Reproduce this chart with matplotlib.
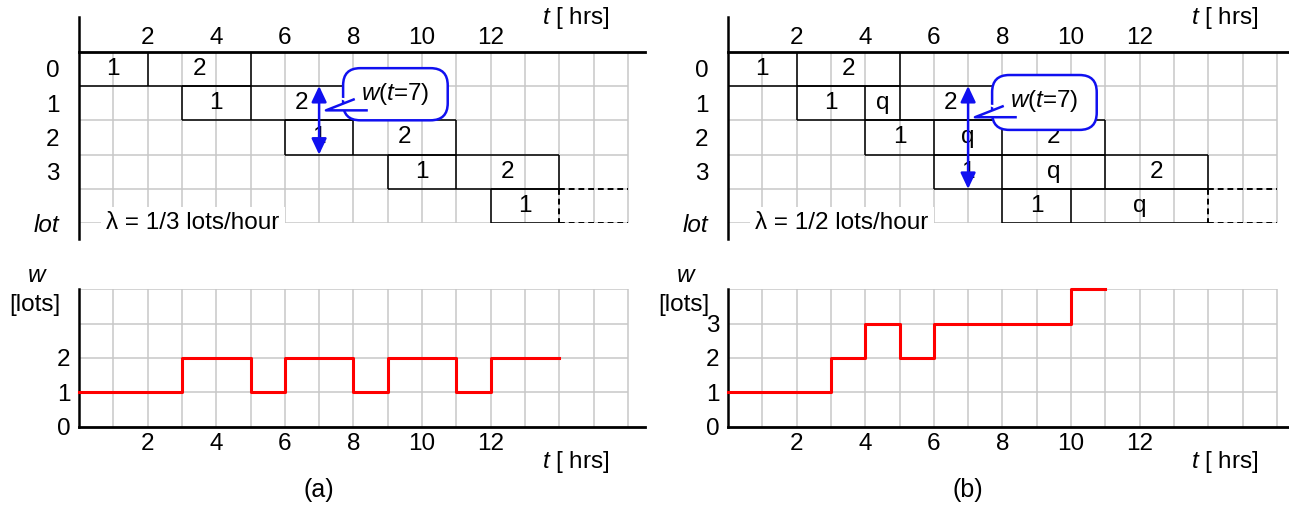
import matplotlib
matplotlib.use("Agg")
import matplotlib.pyplot as plt
from matplotlib.patches import FancyBboxPatch, Polygon

plt.rcParams['font.family'] = ['Liberation Sans', 'DejaVu Sans']
plt.rcParams['mathtext.fontset'] = 'custom'
plt.rcParams['mathtext.rm'] = 'Liberation Sans'
plt.rcParams['mathtext.it'] = 'Liberation Sans:italic'
plt.rcParams['font.size'] = 17.5

# schedules: step boundaries per lot and the label of each step
edges_a = [[0, 2, 5], [3, 5, 8], [6, 8, 11], [9, 11, 14], [12, 14]]
labels_a = [["1", "2"], ["1", "2"], ["1", "2"], ["1", "2"], ["1"]]
edges_b = [[0, 2, 5], [2, 4, 5, 8], [4, 6, 8, 11], [6, 8, 11, 14], [8, 10, 14]]
labels_b = [["1", "2"], ["1", "q", "2"], ["1", "q", "2"], ["1", "q", "2"], ["1", "q"]]
dash_end = 16

# work in process w(t)
wip_t_a = [0, 3, 5, 6, 8, 9, 11, 12, 14]
wip_w_a = [1, 2, 1, 2, 1, 2, 1, 2, 2]
wip_t_b = [0, 3, 4, 5, 6, 10, 11]
wip_w_b = [1, 2, 3, 2, 3, 4, 4]

t_probe = 7
hour_ticks = [2, 4, 6, 8, 10, 12]
lot_ticks = ["0", "1", "2", "3"]
w_ticks_a = [0, 1, 2]
w_ticks_b = [0, 1, 2, 3]

W, H = 1289, 512
U = 34.3          # pixels per hour / per lot row
GRID = '#c8c8c8'
BLUE = '#1010f0'


def px_axes(fig, left, top, width, height):
    return fig.add_axes([left / W, 1 - (top + height) / H, width / W, height / H])


def w_at(ts, ws, t):
    val = ws[0]
    for a, v in zip(ts, ws):
        if a <= t:
            val = v
    return val


def draw_schedule(ax, edges, labels, lam, box_y, wt):
    ax.set_xlim(0, 16.5)
    ax.set_ylim(5, 0)
    for s in ['right', 'bottom', 'left']:
        ax.spines[s].set_visible(False)
    ax.spines['top'].set_linewidth(2.0)
    ax.vlines(range(1, 17), 0, 5, color=GRID, lw=1.1, zorder=1)
    ax.hlines(range(1, 6), 0, 16, color=GRID, lw=1.1, zorder=1)
    ax.plot([0, 0], [-1.0, 5.45], color='k', lw=1.8, clip_on=False, zorder=6)

    n = len(edges)
    for r, (e, lab) in enumerate(zip(edges, labels)):
        last = r == n - 1
        ax.hlines([r, r + 1], e[0], e[-1], color='k', lw=1.1, zorder=3)
        ax.vlines(e[:-1] if last else e, r, r + 1, color='k', lw=1.1, zorder=3)
        for a, b, s in zip(e[:-1], e[1:], lab):
            ax.text((a + b) / 2, r + 0.5, s, ha='center', va='center', zorder=3)
    # open-ended lot still running
    end = edges[-1][-1]
    ax.hlines([n - 1, n], end, dash_end, color='k', lw=1.4, ls=(0, (3, 2)), zorder=3)
    ax.vlines(end, n - 1, n, color='k', lw=1.4, ls=(0, (3, 2)), zorder=3)

    ax.xaxis.tick_top()
    ax.set_xticks(hour_ticks)
    ax.set_xticklabels([str(h) for h in hour_ticks])
    ax.tick_params(axis='x', length=0, pad=2)
    ax.set_yticks([0.5, 1.5, 2.5, 3.5, 5])
    ax.set_yticklabels(lot_ticks + ["lot"])
    ax.get_yticklabels()[-1].set_style('italic')
    ax.tick_params(axis='y', length=0, pad=14)

    ax.text(15.48, -0.98, "$t$ [ hrs]", ha='right', va='center')
    ax.text(0.8, 5, lam, ha='left', va='center', zorder=4,
            bbox=dict(fc='white', ec='none', pad=4))

    # callout w(t=7)
    x0, x1 = 7.7, 10.75
    y0, y1 = box_y
    box = FancyBboxPatch((x0, y0), x1 - x0, y1 - y0,
                         boxstyle="round,pad=0,rounding_size=0.5",
                         fc='white', ec=BLUE, lw=1.8, zorder=5)
    ax.add_patch(box)
    ym = y0 + 0.9
    upper = (8.04, ym)
    tip = (7.2, ym + 0.33)
    lower = (8.42, ym + 0.33)
    ax.add_patch(Polygon([upper, tip, lower, (7.5, ym - 0.05)], fc='white', ec='none', zorder=6))
    ax.plot([upper[0], tip[0], lower[0]], [upper[1], tip[1], lower[1]],
            color=BLUE, lw=1.8, zorder=7, solid_capstyle='butt')
    ax.text(9.22, y0 + 0.75, "$w$($t$=7)", ha='center', va='center', zorder=7)

    ax.annotate('', xy=(t_probe, 1), xytext=(t_probe, 1 + wt),
                arrowprops=dict(arrowstyle='<|-|>,head_length=0.55,head_width=0.26',
                                color=BLUE, lw=1.8, shrinkA=0, shrinkB=0),
                zorder=8)


def draw_wip(ax, ts, ws, yticks, tag):
    ax.set_xlim(0, 16.5)
    ax.set_ylim(0, 4)
    for s in ['right', 'top']:
        ax.spines[s].set_visible(False)
    ax.spines['bottom'].set_linewidth(2.0)
    ax.spines['left'].set_linewidth(1.8)
    ax.vlines(range(1, 17), 0, 4, color=GRID, lw=1.1, zorder=1)
    ax.hlines(range(1, 5), 0, 16, color=GRID, lw=1.1, zorder=1)
    ax.step(ts, ws, where='post', color='red', lw=2.2, zorder=4, clip_on=False)

    ax.set_xticks(hour_ticks)
    ax.set_xticklabels([str(h) for h in hour_ticks])
    ax.tick_params(axis='x', length=0, pad=5)
    ax.set_yticks(yticks)
    ax.set_yticklabels([str(v) for v in yticks])
    ax.tick_params(axis='y', length=0, pad=6)

    ax.text(-1.22, 4.4, "$w$", ha='center', va='center', clip_on=False)
    ax.text(-1.28, 3.55, "[lots]", ha='center', va='center', clip_on=False)
    ax.text(15.48, -1.03, "$t$ [ hrs]", ha='right', va='center')
    ax.text(7.0, -1.85, tag, ha='center', va='center', fontsize=18)


fig = plt.figure(figsize=(W / 100, H / 100), dpi=100)

for x_axis, edges, labels, lam, box_y, ts, ws, yt, tag in [
        (79, edges_a, labels_a, "λ = 1/3 lots/hour", (0.48, 2.0), wip_t_a, wip_w_a, w_ticks_a, "(a)"),
        (728, edges_b, labels_b, "λ = 1/2 lots/hour", (0.68, 2.28), wip_t_b, wip_w_b, w_ticks_b, "(b)")]:
    top = px_axes(fig, x_axis, 51.7, 16.5 * U, 5 * U)
    draw_schedule(top, edges, labels, lam, box_y, w_at(ts, ws, t_probe))
    bottom = px_axes(fig, x_axis, 289.3, 16.5 * U, 4 * U)
    draw_wip(bottom, ts, ws, yt, tag)

fig.savefig("out.png", dpi=100)
